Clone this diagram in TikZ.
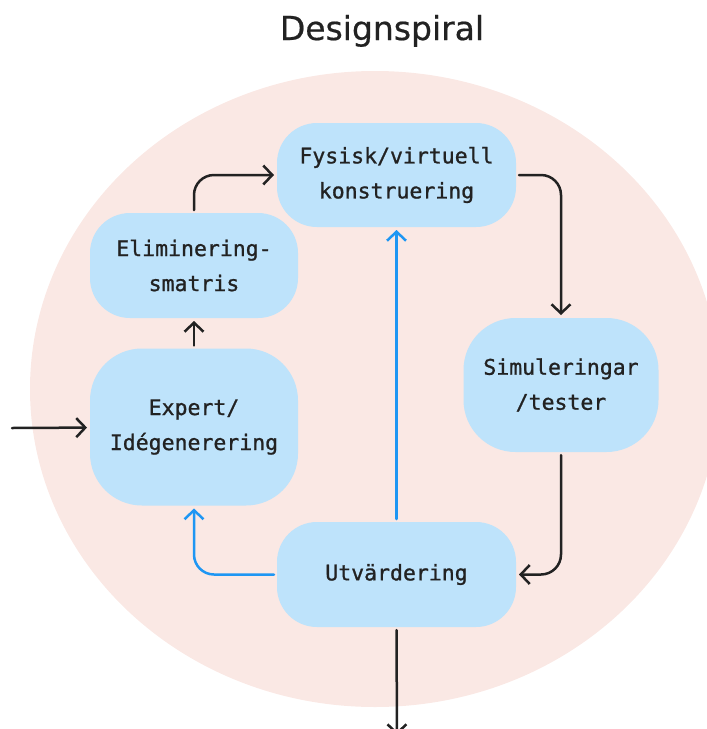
\documentclass[tikz,border=0pt]{standalone}
\usepackage{fontspec}
\setmainfont{DejaVu Sans}
\newfontfamily\boxfont[FakeBold=1]{DejaVu Sans Mono}
\newfontfamily\titlefont[FakeBold=0.6]{DejaVu Sans}
\usetikzlibrary{arrows.meta}
\definecolor{spiral_pink}{RGB}{250, 232, 228}
\definecolor{spiral_blue}{RGB}{190, 227, 251}
\definecolor{loop_blue}{RGB}{30, 150, 243}
\definecolor{ink}{RGB}{34, 34, 34}
\tikzstyle{bx}=[rectangle,rounded corners=40pt,fill=spiral_blue,inner sep=0pt,
  outer sep=3pt,text=ink,align=center,font=\boxfont\fontsize{21.5}{35}\selectfont]
\tikzstyle{ar}=[draw=ink,line width=2.5pt,line cap=round,rounded corners=20pt,
  -{Straight Barb[length=9pt,width=19pt]}]
\tikzstyle{br}=[ar,draw=loop_blue]
\tikzstyle{none}=[]

\begin{document}
\begin{tikzpicture}[x=1pt, y=-1pt]
    \useasboundingbox (0, 0) rectangle (707, 729);
    \fill [spiral_pink] (375, 389) ellipse [x radius=345pt, y radius=318pt];
            \node [style=none, text=ink, anchor=base, font=\titlefont\fontsize{33}{38}\selectfont] (9) at (382, 40) {Designspiral};
            \node [style=bx, minimum width=208pt, minimum height=105pt] (0) at (194, 265.5) {Eliminering-\\smatris};
            \node [style=bx, minimum width=239pt, minimum height=104pt] (1) at (396.5, 175) {Fysisk/virtuell\\konstruering};
            \node [style=bx, minimum width=195pt, minimum height=134pt, rounded corners=52pt] (2) at (561, 385) {Simuleringar\\/tester};
            \node [style=bx, minimum width=208pt, minimum height=157pt, rounded corners=52pt] (3) at (194, 427) {Expert/\\Idégenerering};
            \node [style=bx, minimum width=239pt, minimum height=105pt] (4) at (396.5, 574.5) {Utvärdering};
            \node [style=none] (6) at (12, 428) {};
            \node [style=none] (7) at (397, 735) {};
            \draw [style=ar] (6.center) to (3);
            \draw [style=ar] (3) to (0);
            \draw [style=ar] (0.north) |- (1.west);
            \draw [style=ar] (1.east) -| (2.north);
            \draw [style=ar] (2.south) |- (4.east);
            \draw [style=br] (4.west) -| (3.south);
            \draw [style=br] (4.north) to (1.south);
            \draw [style=ar] (4.south) to (7.center);
    \end{tikzpicture}
\end{document}
